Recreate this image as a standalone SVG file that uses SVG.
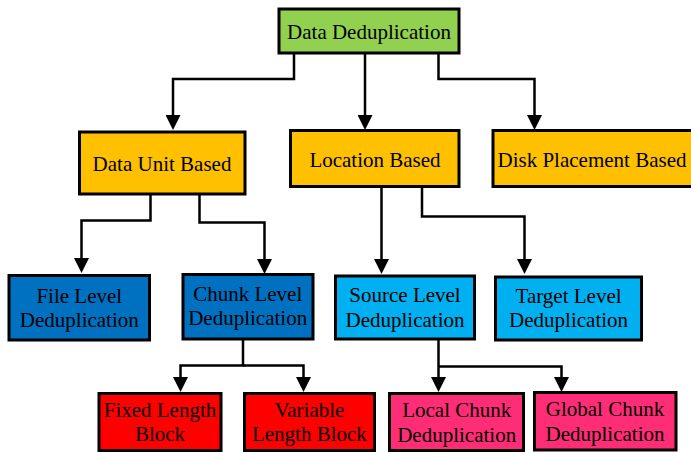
<svg xmlns="http://www.w3.org/2000/svg" width="691" height="452" viewBox="0 0 691 452">
  <style>
    .box { stroke: #000; stroke-width: 3; }
    .green { fill: #92D050; }
    .orange { fill: #FFC000; }
    .dblue { fill: #0070C0; }
    .lblue { fill: #00B0F0; }
    .red { fill: #FF0000; }
    .pink { fill: #FF2C76; }
    text { font-family: "Liberation Serif", "Times New Roman", serif; font-size: 21px; fill: #000; text-anchor: middle; }
    .wire { fill: none; stroke: #000; stroke-width: 2.5; }
  </style>
  <defs>
    <marker id="arrow" markerUnits="userSpaceOnUse" viewBox="0 0 15 15" refX="1" refY="7.5" markerWidth="15" markerHeight="15" orient="auto">
      <path d="M0,0 L15,7.5 L0,15 z" fill="#000"/>
    </marker>
  </defs>

  <g id="connectors">
    <!-- root to level 2 -->
    <path class="wire" d="M294,53 V79 H173 V116" marker-end="url(#arrow)"/>
    <path class="wire" d="M365,53 V116" marker-end="url(#arrow)"/>
    <path class="wire" d="M438.5,53 V79 H534.5 V116" marker-end="url(#arrow)"/>
    <!-- data unit based -->
    <path class="wire" d="M150.5,194 V220.5 H81.5 V259" marker-end="url(#arrow)"/>
    <path class="wire" d="M199.5,194 V222.5 H264.5 V260" marker-end="url(#arrow)"/>
    <!-- location based -->
    <path class="wire" d="M381.5,187 V260" marker-end="url(#arrow)"/>
    <path class="wire" d="M422,187 V216.5 H524.5 V260" marker-end="url(#arrow)"/>
    <!-- chunk level -->
    <path class="wire" d="M243,340 V365.5 H180.5 V378" marker-end="url(#arrow)"/>
    <path class="wire" d="M243,365.5 H303.5 V378" marker-end="url(#arrow)"/>
    <!-- source level -->
    <path class="wire" d="M438.5,340 V378" marker-end="url(#arrow)"/>
    <path class="wire" d="M438.5,366.5 H561.5 V378" marker-end="url(#arrow)"/>
  </g>

  <g id="data-deduplication">
    <rect class="box green" x="279" y="9" width="180" height="44"/>
    <text x="369" y="38.5">Data Deduplication</text>
  </g>

  <g id="data-unit-based">
    <rect class="box orange" x="79.5" y="132" width="165.5" height="62"/>
    <text x="162" y="170.5">Data Unit Based</text>
  </g>
  <g id="location-based">
    <rect class="box orange" x="290.5" y="130.5" width="168.5" height="56"/>
    <text x="375" y="166.5">Location Based</text>
  </g>
  <g id="disk-placement-based">
    <rect class="box orange" x="493" y="130.5" width="200" height="56"/>
    <text x="592" y="166.5">Disk Placement Based</text>
  </g>

  <g id="file-level">
    <rect class="box dblue" x="9" y="275.5" width="140.5" height="64.5"/>
    <text x="79.3" y="303.3">File Level</text>
    <text x="79.3" y="327.3">Deduplication</text>
  </g>
  <g id="chunk-level">
    <rect class="box dblue" x="183" y="274.5" width="130" height="64.5"/>
    <text x="247.7" y="300.7">Chunk Level</text>
    <text x="247.7" y="325">Deduplication</text>
  </g>
  <g id="source-level">
    <rect class="box lblue" x="335.5" y="276" width="139" height="63"/>
    <text x="405" y="302.3">Source Level</text>
    <text x="405" y="326.7">Deduplication</text>
  </g>
  <g id="target-level">
    <rect class="box lblue" x="495.5" y="277" width="146" height="63"/>
    <text x="568.6" y="303.3">Target Level</text>
    <text x="568.6" y="327.3">Deduplication</text>
  </g>

  <g id="fixed-length-block">
    <rect class="box red" x="99" y="393.5" width="122" height="57"/>
    <text x="160" y="417.3">Fixed Length</text>
    <text x="160" y="440.7">Block</text>
  </g>
  <g id="variable-length-block">
    <rect class="box red" x="244.5" y="393.5" width="130" height="57"/>
    <text x="309.4" y="417.3">Variable</text>
    <text x="309.4" y="440.7">Length Block</text>
  </g>
  <g id="local-chunk">
    <rect class="box pink" x="389.5" y="393.5" width="134" height="57"/>
    <text x="456.7" y="417.3">Local Chunk</text>
    <text x="456.7" y="441.5">Deduplication</text>
  </g>
  <g id="global-chunk">
    <rect class="box pink" x="534.5" y="392.5" width="141.5" height="57.5"/>
    <text x="605" y="416">Global Chunk</text>
    <text x="605" y="440.7">Deduplication</text>
  </g>
</svg>
